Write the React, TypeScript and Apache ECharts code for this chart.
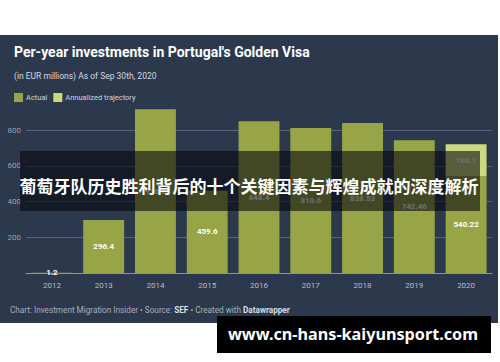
import React, { useEffect, useRef } from "react";
import * as echarts from "echarts";

const years = ["2012", "2013", "2014", "2015", "2016", "2017", "2018", "2019", "2020"];
const actual = [1.2, 296.4, 916.6, 459.6, 848.4, 810.6, 838.53, 742.46, 540.22];
const annualized = [null, null, null, null, null, null, null, null, 180.1];
const yTicks = [0, 200, 400, 600, 800];

const TITLE = "Per-year investments in Portugal's Golden Visa";
const SUBTITLE = "(in EUR millions) As of Sep 30th, 2020";
const BANNER = "葡萄牙队历史胜利背后的十个关键因素与辉煌成就的深度解析";
const WATERMARK = "www.cn-hans-kaiyunsport.com";

export default function App() {
  const ref = useRef<HTMLDivElement>(null);
  useEffect(() => {
    document.body.style.margin = "0";
    const chart = echarts.init(ref.current!, null, { renderer: "svg" });
    const bg = "#2c384c";
    const font = "Roboto, 'Noto Sans', sans-serif";
    chart.setOption({
      animation: false,
      backgroundColor: "#ffffff",
      textStyle: { fontFamily: font },
      title: [
        {
          text: TITLE,
          left: 9,
          top: 40,
          textStyle: { color: "#ffffff", fontSize: 14, fontWeight: "bold", fontFamily: font },
        },
        {
          text: SUBTITLE,
          left: 9,
          top: 66,
          textStyle: { color: "#d5d9df", fontSize: 8.5, fontWeight: "normal", fontFamily: font },
        },
      ],
      legend: {
        left: 9,
        top: 88,
        itemWidth: 9,
        itemHeight: 9,
        itemGap: 6,
        icon: "rect",
        textStyle: { color: "#d0d4da", fontSize: 7.5, fontFamily: font, padding: [0, 0, 0, -2] },
        data: ["Actual", "Annualized trajectory"],
      },
      grid: { left: 26, right: 8, top: 130, bottom: 89 },
      xAxis: {
        type: "category",
        data: years,
        axisTick: { show: false },
        axisLine: { lineStyle: { color: "#8b93a1", width: 1 } },
        axisLabel: { color: "#b9bec7", fontSize: 8, margin: 8, fontFamily: font },
      },
      yAxis: {
        type: "value",
        min: yTicks[0],
        max: yTicks[yTicks.length - 1],
        interval: 200,
        axisLine: { show: false },
        axisTick: { show: false },
        splitLine: { lineStyle: { color: "#58627a", width: 1 } },
        axisLabel: {
          color: "#9ea4ae",
          fontSize: 8,
          margin: 5,
          align: "right",
          fontFamily: font,
          formatter: (v: number) => (v === 0 ? "" : String(v)),
        },
      },
      series: [
        {
          name: "Actual",
          type: "bar",
          stack: "total",
          data: actual,
          barCategoryGap: "21%",
          clip: false,
          itemStyle: { color: "#98a547" },
          label: {
            show: true,
            position: "inside",
            color: "#ffffff",
            fontSize: 8,
            fontWeight: "bold",
            fontFamily: font,
          },
        },
        {
          name: "Annualized trajectory",
          type: "bar",
          stack: "total",
          data: annualized,
          clip: false,
          itemStyle: { color: "#ccda7f" },
          label: {
            show: true,
            position: "inside",
            color: "#ffffff",
            fontSize: 8,
            fontWeight: "bold",
            fontFamily: font,
          },
        },
      ],
      graphic: [
        {
          type: "rect",
          z: -10,
          zlevel: 0,
          silent: true,
          shape: { x: 0, y: 35, width: 498, height: 288 },
          style: { fill: bg },
        },
        {
          type: "text",
          z: 10,
          left: 10,
          top: 306,
          style: {
            text: "Chart: Investment Migration Insider • Source: {b|SEF} • Created with {b|Datawrapper}",
            fill: "#a9afb9",
            fontSize: 8.2,
            fontFamily: font,
            rich: { b: { fontWeight: "bold", fill: "#d8dce2", fontSize: 8.2, fontFamily: font } },
          },
        },
        {
          type: "rect",
          z: 100,
          shape: { x: 20, y: 151, width: 460, height: 60 },
          style: { fill: "rgba(4,6,10,0.58)" },
        },
        {
          type: "text",
          z: 101,
          x: 249,
          y: 185,
          style: {
            text: BANNER,
            fill: "#ffffff",
            fontSize: 17,
            fontWeight: "bold",
            fontFamily: "'Noto Sans CJK SC', sans-serif",
            align: "center",
            verticalAlign: "middle",
          },
        },
        {
          type: "rect",
          z: 100,
          shape: { x: 217, y: 316, width: 274, height: 37 },
          style: { fill: "#000000" },
        },
        {
          type: "text",
          z: 101,
          x: 353,
          y: 334,
          style: {
            text: WATERMARK,
            fill: "#ffffff",
            fontSize: 16.2,
            fontWeight: "bold",
            fontFamily: "'Noto Sans', sans-serif",
            align: "center",
            verticalAlign: "middle",
          },
        },
      ],
    });
    return () => chart.dispose();
  }, []);
  return <div ref={ref} style={{ width: 500, height: 362 }} />;
}
